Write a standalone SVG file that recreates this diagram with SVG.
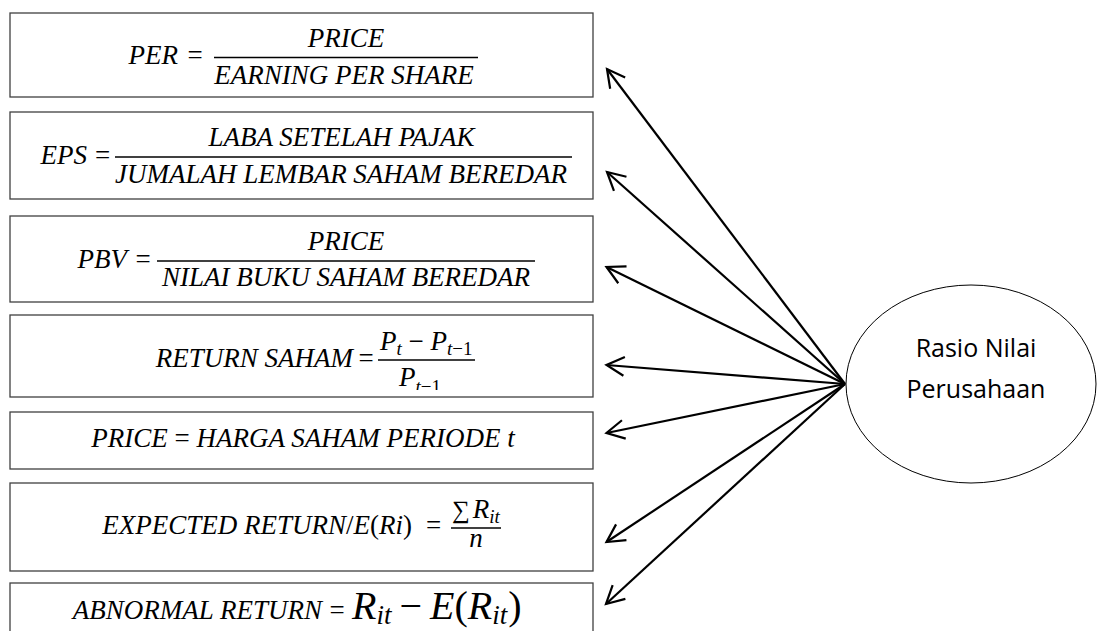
<svg xmlns="http://www.w3.org/2000/svg" width="1098" height="631" viewBox="0 0 1098 631">
<defs>
<style>
.box{fill:#fff;stroke:#404040;stroke-width:1.3}
.m{font-family:"Liberation Serif","DejaVu Serif",serif;font-size:27px;font-style:italic;fill:#000}
.u{font-style:normal}
.sub{font-size:19px}
.big{font-size:40px}
.bigsub{font-size:27px}
.bar{stroke:#000;stroke-width:1.6}
.conn line{stroke:#000;stroke-width:2.2;marker-end:url(#arr)}
.lbl{font-family:"Open Sans","Liberation Sans",sans-serif;font-size:25px;fill:#000;text-anchor:middle}
</style>
<marker id="arr" markerUnits="userSpaceOnUse" viewBox="-22 -12 26 24" markerWidth="26" markerHeight="24" refX="0" refY="0" orient="auto">
<path d="M -17.7 -9.4 L 0 0 L -17.7 9.4" fill="none" stroke="#000" stroke-width="2.2"/>
</marker>
<clipPath id="clip4"><rect x="10" y="315" width="583" height="75"/></clipPath>
</defs>
<rect width="1098" height="631" fill="#fff"/>

<g id="per">
<rect class="box" x="10" y="13" width="583" height="84"/>
<text class="m" x="178" y="64" text-anchor="end">PER</text>
<text class="m u" x="195" y="64" text-anchor="middle">=</text>
<line class="bar" x1="214" y1="57.5" x2="478" y2="57.5"/>
<text class="m" x="346" y="47" text-anchor="middle">PRICE</text>
<text class="m" x="344" y="83.5" text-anchor="middle">EARNING PER SHARE</text>
</g>

<g id="eps">
<rect class="box" x="10" y="112" width="583" height="87"/>
<text class="m" x="87" y="163.5" text-anchor="end">EPS</text>
<text class="m u" x="102.5" y="163.5" text-anchor="middle">=</text>
<line class="bar" x1="115" y1="157" x2="572" y2="157"/>
<text class="m" x="341.5" y="146" text-anchor="middle">LABA SETELAH PAJAK</text>
<text class="m" x="341" y="183" text-anchor="middle">JUMALAH LEMBAR SAHAM BEREDAR</text>
</g>

<g id="pbv">
<rect class="box" x="10" y="216" width="583" height="86"/>
<text class="m" x="127" y="267.5" text-anchor="end">PBV</text>
<text class="m u" x="143" y="267.5" text-anchor="middle">=</text>
<line class="bar" x1="157" y1="261" x2="535" y2="261"/>
<text class="m" x="346" y="249.5" text-anchor="middle">PRICE</text>
<text class="m" x="346" y="286" text-anchor="middle">NILAI BUKU SAHAM BEREDAR</text>
</g>

<g id="return-saham">
<rect class="box" x="10" y="315" width="583" height="82"/>
<g clip-path="url(#clip4)">
<text class="m" x="353" y="366.5" text-anchor="end">RETURN SAHAM</text>
<text class="m u" x="366" y="366.5" text-anchor="middle">=</text>
<line class="bar" x1="378" y1="360" x2="475" y2="360"/>
<text class="m" x="380" y="350">P<tspan class="sub" dy="5">t</tspan><tspan class="u" dy="-5"> − </tspan>P<tspan class="sub" dy="5">t</tspan><tspan class="sub u">−1</tspan></text>
<text class="m" x="399" y="386">P<tspan class="sub" dy="7">t</tspan><tspan class="sub u">−1</tspan></text>
</g>
</g>

<g id="price">
<rect class="box" x="10" y="412" width="583" height="57"/>
<text class="m" x="303" y="446.5" text-anchor="middle">PRICE <tspan class="u">=</tspan> HARGA SAHAM PERIODE t</text>
</g>

<g id="expected-return">
<rect class="box" x="10" y="483" width="583" height="88"/>
<text class="m" x="412" y="534" text-anchor="end">EXPECTED RETURN<tspan class="u">/</tspan>E<tspan class="u">(</tspan>Ri<tspan class="u">)</tspan></text>
<text class="m u" x="433.5" y="534" text-anchor="middle">=</text>
<line class="bar" x1="451" y1="528" x2="501" y2="528"/>
<text class="m" x="452" y="518"><tspan class="u" font-size="25">∑</tspan><tspan dx="3">R</tspan><tspan class="sub" dy="5">it</tspan></text>
<text class="m" x="476" y="547" text-anchor="middle">n</text>
</g>

<g id="abnormal-return">
<rect class="box" x="10" y="583" width="583" height="60"/>
<text class="m" x="322" y="619" text-anchor="end">ABNORMAL RETURN</text>
<text class="m u" x="337" y="619" text-anchor="middle">=</text>
<text class="m big" x="352" y="619">R<tspan class="bigsub" dy="5">it</tspan><tspan class="u" dy="-5" dx="8">−</tspan><tspan dx="8">E</tspan><tspan class="u">(</tspan>R<tspan class="bigsub" dy="5">it</tspan><tspan class="u" dy="-5" dx="1">)</tspan></text>
</g>

<g id="connectors" class="conn">
<line x1="845" y1="384" x2="607" y2="69"/>
<line x1="845" y1="384" x2="607" y2="172"/>
<line x1="845" y1="384" x2="606.5" y2="267"/>
<line x1="845" y1="384" x2="606.5" y2="365"/>
<line x1="845" y1="384" x2="606.5" y2="433"/>
<line x1="845" y1="384" x2="606.5" y2="542"/>
<line x1="845" y1="384" x2="606" y2="604"/>
</g>

<g id="rasio-nilai-perusahaan">
<ellipse cx="971" cy="384" rx="125" ry="99" fill="#fff" stroke="#000" stroke-width="1"/>
<text class="lbl" x="976" y="357">Rasio Nilai</text>
<text class="lbl" x="976" y="398">Perusahaan</text>
</g>
</svg>
